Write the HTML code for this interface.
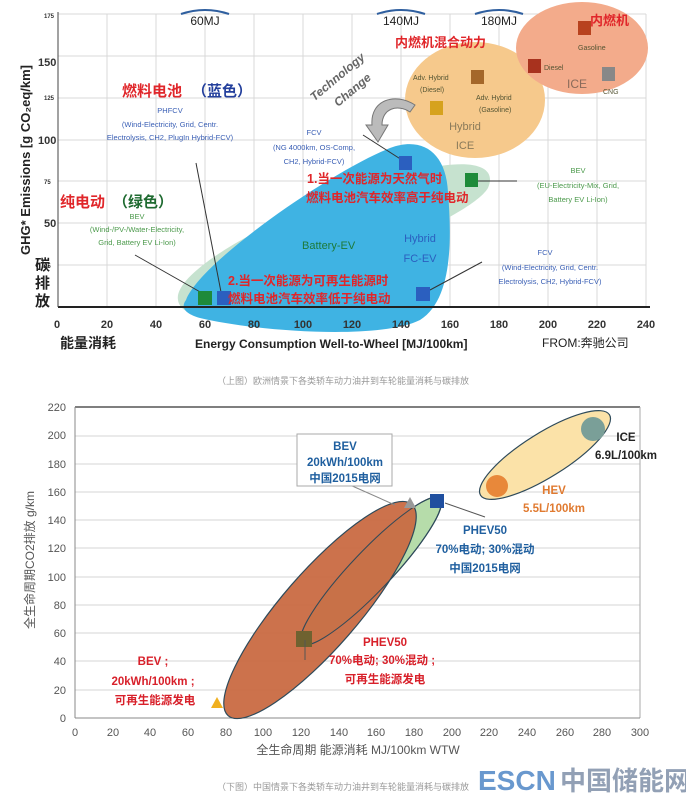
<!DOCTYPE html>
<html><head><meta charset="utf-8"><style>
html,body{margin:0;padding:0;background:#fff;width:686px;height:800px;overflow:hidden}
svg{display:block;font-family:"Liberation Sans","Noto Sans CJK SC",sans-serif}
</style></head><body>
<svg width="686" height="800" viewBox="0 0 686 800" xmlns="http://www.w3.org/2000/svg">
<!-- TOP CHART -->
<g stroke="#d8d8d8" stroke-width="1">
<line x1="107" y1="14" x2="107" y2="307"/><line x1="156" y1="14" x2="156" y2="307"/><line x1="205" y1="14" x2="205" y2="307"/><line x1="254" y1="14" x2="254" y2="307"/><line x1="303" y1="14" x2="303" y2="307"/><line x1="352" y1="14" x2="352" y2="307"/><line x1="401" y1="14" x2="401" y2="307"/><line x1="450" y1="14" x2="450" y2="307"/><line x1="499" y1="14" x2="499" y2="307"/><line x1="548" y1="14" x2="548" y2="307"/><line x1="597" y1="14" x2="597" y2="307"/><line x1="646" y1="14" x2="646" y2="307"/>
<line x1="58" y1="14" x2="646" y2="14"/><line x1="58" y1="56" x2="646" y2="56"/><line x1="58" y1="98" x2="646" y2="98"/><line x1="58" y1="140" x2="646" y2="140"/><line x1="58" y1="181" x2="646" y2="181"/><line x1="58" y1="223" x2="646" y2="223"/><line x1="58" y1="265" x2="646" y2="265"/>
</g>
<path d="M178,300 C172,268 300,200 420,170 C470,158 498,165 488,188 C470,218 330,272 240,308 C205,320 180,315 178,300Z" fill="#c6e2cf"/>
<path d="M186,300 C200,262 330,172 390,148 C422,136 446,152 448,192 C452,242 452,300 420,320 C380,340 260,332 200,318 C186,314 180,308 186,300Z" fill="#3fb3e3"/>
<ellipse cx="475" cy="100" rx="70" ry="58" fill="#f6c98c"/>
<ellipse cx="582" cy="48" rx="66" ry="46" fill="#f3ab8b"/>
<line x1="58" y1="307" x2="650" y2="307" stroke="#222" stroke-width="2"/>
<line x1="58" y1="12" x2="58" y2="307" stroke="#444" stroke-width="1"/>
<!-- arrow -->
<path d="M415,105 C395,92 370,100 372,125 L366,125 L378,142 L388,125 L382,125 C382,108 398,104 410,112Z" fill="#bbb" stroke="#777" stroke-width="1"/>
<!-- connectors -->
<g stroke="#333" stroke-width="1"><line x1="135" y1="255" x2="202" y2="293"/><line x1="196" y1="163" x2="221" y2="292"/><line x1="363" y1="135" x2="402" y2="160"/><line x1="478" y1="181" x2="517" y2="181"/><line x1="430" y1="290" x2="482" y2="262"/></g>
<!-- squares -->
<rect x="198" y="291" width="14" height="14" fill="#1e8a3a"/>
<rect x="217" y="291" width="14" height="14" fill="#2b5fbf"/>
<rect x="399" y="156" width="13" height="14" fill="#2b5fbf"/>
<rect x="465" y="173" width="13" height="14" fill="#1e8a3a"/>
<rect x="416" y="287" width="14" height="14" fill="#2b5fbf"/>
<rect x="430" y="101" width="13" height="14" fill="#d6a21e"/>
<rect x="471" y="70" width="13" height="14" fill="#a4672a"/>
<rect x="528" y="59" width="13" height="14" fill="#a8321e"/>
<rect x="578" y="21" width="13" height="14" fill="#b8421e"/>
<rect x="602" y="67" width="13" height="14" fill="#888"/>
<!-- axes labels -->
<g font-size="9" fill="#333" font-weight="bold"><text x="44" y="18" font-size="6">175</text><text x="38" y="66" font-size="11">150</text><text x="44" y="100" font-size="6">125</text><text x="38" y="144" font-size="11">100</text><text x="44" y="184" font-size="6">75</text><text x="44" y="227" font-size="11">50</text><text x="44" y="268" font-size="6">25</text></g>
<g font-size="11" fill="#333" font-weight="bold" text-anchor="middle"><text x="57" y="328">0</text><text x="107" y="328">20</text><text x="156" y="328">40</text><text x="205" y="328">60</text><text x="254" y="328">80</text><text x="303" y="328">100</text><text x="352" y="328">120</text><text x="401" y="328">140</text><text x="450" y="328">160</text><text x="499" y="328">180</text><text x="548" y="328">200</text><text x="597" y="328">220</text><text x="646" y="328">240</text></g>
<text transform="translate(30,160) rotate(-90)" text-anchor="middle" font-size="13" font-weight="bold" fill="#222">GHG* Emissions [g CO₂eq/km]</text>
<text x="35" y="270" font-size="15" font-weight="bold" fill="#222">碳</text><text x="35" y="288" font-size="15" font-weight="bold" fill="#222">排</text><text x="35" y="306" font-size="15" font-weight="bold" fill="#222">放</text>
<text x="60" y="348" font-size="14" font-weight="bold" fill="#222">能量消耗</text>
<text x="195" y="348" font-size="12" font-weight="bold" fill="#222">Energy Consumption Well-to-Wheel [MJ/100km]</text>
<text x="542" y="347" font-size="12" fill="#222">FROM:奔驰公司</text>
<!-- MJ markers -->
<g fill="none" stroke="#2f5f9f" stroke-width="2"><path d="M181,14 Q205,6 229,14"/><path d="M377,14 Q401,6 425,14"/><path d="M475,14 Q499,6 523,14"/></g>
<g font-size="12" fill="#222" text-anchor="middle"><text x="205" y="25">60MJ</text><text x="401" y="25">140MJ</text><text x="499" y="25">180MJ</text></g>
<text transform="translate(340,80) rotate(-40)" font-size="12" font-weight="bold" fill="#666" font-style="italic" text-anchor="middle">Technology</text>
<text transform="translate(355,93) rotate(-40)" font-size="12" font-weight="bold" fill="#666" font-style="italic" text-anchor="middle">Change</text>
<!-- labels -->
<text x="122" y="96" font-size="15" font-weight="bold" fill="#e0262a">燃料电池</text><text x="192" y="96" font-size="15" font-weight="bold" fill="#233f9c">（蓝色）</text>
<g font-size="7.5" fill="#3a5fb5" text-anchor="middle"><text x="170" y="113">PHFCV</text><text x="170" y="127">(Wind-Electricity, Grid, Centr.</text><text x="170" y="140">Electrolysis, CH2, PlugIn Hybrid-FCV)</text>
<text x="314" y="135">FCV</text><text x="314" y="150">(NG 4000km, OS-Comp,</text><text x="314" y="164">CH2, Hybrid-FCV)</text>
<text x="545" y="255">FCV</text><text x="550" y="270">(Wind-Electricity, Grid, Centr.</text><text x="550" y="284">Electrolysis, CH2, Hybrid-FCV)</text></g>
<text x="60" y="207" font-size="15" font-weight="bold" fill="#e0262a">纯电动</text><text x="113" y="207" font-size="15" font-weight="bold" fill="#1e6a30">（绿色）</text>
<g font-size="7.5" fill="#4c9a4c" text-anchor="middle"><text x="137" y="219">BEV</text><text x="137" y="232">(Wind-/PV-/Water-Electricity,</text><text x="137" y="245">Grid, Battery EV Li-Ion)</text>
<text x="578" y="173">BEV</text><text x="578" y="188">(EU-Electricity-Mix, Grid,</text><text x="578" y="202">Battery EV Li-Ion)</text></g>
<text x="302" y="249" font-size="11" fill="#1d7a3a">Battery-EV</text>
<text x="420" y="242" font-size="11" fill="#2b5fbf" text-anchor="middle">Hybrid</text><text x="420" y="262" font-size="11" fill="#2b5fbf" text-anchor="middle">FC-EV</text>
<g font-size="12.5" font-weight="bold" fill="#e0262a"><text x="307" y="183">1.当一次能源为天然气时</text><text x="306" y="202">燃料电池汽车效率高于纯电动</text><text x="228" y="285">2.当一次能源为可再生能源时</text><text x="228" y="303">燃料电池汽车效率低于纯电动</text>
<text x="395" y="47" font-size="13">内燃机混合动力</text><text x="590" y="25" font-size="13">内燃机</text></g>
<g font-size="7" fill="#553"><text x="413" y="80">Adv. Hybrid</text><text x="420" y="92">(Diesel)</text><text x="476" y="100">Adv. Hybrid</text><text x="479" y="112">(Gasoline)</text><text x="544" y="70">Diesel</text><text x="578" y="50">Gasoline</text><text x="603" y="94">CNG</text></g>
<text x="465" y="130" font-size="11" fill="#8a7a5a" text-anchor="middle">Hybrid</text><text x="465" y="149" font-size="11" fill="#8a7a5a" text-anchor="middle">ICE</text>
<text x="577" y="88" font-size="12" fill="#8a6a5a" text-anchor="middle">ICE</text>
<text x="343" y="384" font-size="9" fill="#999" text-anchor="middle">（上图）欧洲情景下各类轿车动力油井到车轮能量消耗与碳排放</text>

<!-- BOTTOM CHART -->
<g stroke="#d5d5d5" stroke-width="1"><line x1="75" y1="436" x2="640" y2="436"/><line x1="75" y1="464" x2="640" y2="464"/><line x1="75" y1="492" x2="640" y2="492"/><line x1="75" y1="520" x2="640" y2="520"/><line x1="75" y1="548" x2="640" y2="548"/><line x1="75" y1="577" x2="640" y2="577"/><line x1="75" y1="605" x2="640" y2="605"/><line x1="75" y1="633" x2="640" y2="633"/><line x1="75" y1="661" x2="640" y2="661"/><line x1="75" y1="690" x2="640" y2="690"/></g>
<line x1="75" y1="407" x2="640" y2="407" stroke="#555" stroke-width="1.5"/>
<line x1="640" y1="407" x2="640" y2="718" stroke="#aaa"/>
<line x1="75" y1="407" x2="75" y2="718" stroke="#888"/>
<line x1="75" y1="718" x2="640" y2="718" stroke="#888"/>
<g font-size="11" fill="#555" text-anchor="end"><text x="66" y="411">220</text><text x="66" y="439">200</text><text x="66" y="468">180</text><text x="66" y="496">160</text><text x="66" y="524">140</text><text x="66" y="552">120</text><text x="66" y="581">100</text><text x="66" y="609">80</text><text x="66" y="637">60</text><text x="66" y="665">40</text><text x="66" y="694">20</text><text x="66" y="722">0</text></g>
<g font-size="11" fill="#555" text-anchor="middle"><text x="75" y="736">0</text><text x="113" y="736">20</text><text x="150" y="736">40</text><text x="188" y="736">60</text><text x="226" y="736">80</text><text x="263" y="736">100</text><text x="301" y="736">120</text><text x="339" y="736">140</text><text x="376" y="736">160</text><text x="414" y="736">180</text><text x="452" y="736">200</text><text x="489" y="736">220</text><text x="527" y="736">240</text><text x="565" y="736">260</text><text x="602" y="736">280</text><text x="640" y="736">300</text></g>
<text x="358" y="754" font-size="12" fill="#555" text-anchor="middle">全生命周期 能源消耗 MJ/100km WTW</text>
<text transform="translate(34,560) rotate(-90)" font-size="12" fill="#555" text-anchor="middle">全生命周期CO2排放 g/km</text>
<!-- shapes -->
<ellipse cx="545" cy="455" rx="76" ry="22" transform="rotate(-32 545 455)" fill="#fbe2a8" stroke="#2e4a5a" stroke-width="1.2"/>
<circle cx="593" cy="429" r="12" fill="#7a9f98"/>
<circle cx="497" cy="486" r="11" fill="#e8883a"/>
<ellipse cx="371" cy="571" rx="100" ry="20" transform="rotate(-46.5 371 571)" fill="#b6dcaa" stroke="#2e4a5a" stroke-width="1.2"/>
<ellipse cx="320" cy="610" rx="140" ry="38" transform="rotate(-49 320 610)" fill="#c96a42" stroke="#2e4a5a" stroke-width="1.2" fill-opacity="0.95"/>
<ellipse cx="371" cy="571" rx="100" ry="20" transform="rotate(-46.5 371 571)" fill="none" stroke="#2e4a5a" stroke-width="1"/>
<polygon points="217,697 211,708 223,708" fill="#f0b020"/>
<rect x="296" y="631" width="16" height="16" fill="#6f6230"/>
<rect x="430" y="494" width="14" height="14" fill="#1f4f9f"/>
<polygon points="410,497 404,508 416,508" fill="#999"/>
<!-- callout -->
<line x1="350" y1="485" x2="395" y2="505" stroke="#888"/>
<line x1="445" y1="503" x2="485" y2="517" stroke="#555"/>
<line x1="305" y1="640" x2="305" y2="660" stroke="#555"/>
<rect x="297" y="434" width="95" height="52" fill="#fff" stroke="#aaa"/>
<g font-size="11.5" font-weight="bold" fill="#1f5f9f" text-anchor="middle"><text x="345" y="450">BEV</text><text x="345" y="466">20kWh/100km</text><text x="345" y="482">中国2015电网</text>
<text x="485" y="534">PHEV50</text><text x="485" y="553">70%电动; 30%混动</text><text x="485" y="572">中国2015电网</text></g>
<g font-size="11.5" font-weight="bold" fill="#222" text-anchor="middle"><text x="626" y="441">ICE</text><text x="626" y="459">6.9L/100km</text></g>
<g font-size="11.5" font-weight="bold" fill="#e07a30" text-anchor="middle"><text x="554" y="494">HEV</text><text x="554" y="512">5.5L/100km</text></g>
<g font-size="11.5" font-weight="bold" fill="#d8202a" text-anchor="middle"><text x="385" y="646">PHEV50</text><text x="382" y="664">70%电动; 30%混动 ;</text><text x="385" y="683">可再生能源发电</text>
<text x="153" y="665">BEV ;</text><text x="153" y="685">20kWh/100km ;</text><text x="155" y="704">可再生能源发电</text></g>
<text x="343" y="790" font-size="9" fill="#999" text-anchor="middle">（下图）中国情景下各类轿车动力油井到车轮能量消耗与碳排放</text>
<text x="478" y="790" font-size="28" font-weight="bold" fill="#4f86c6" fill-opacity="0.85">ESCN</text>
<text x="560" y="790" font-size="26" font-weight="bold" fill="#7f8fa8" fill-opacity="0.85">中国储能网</text>
</svg>
</body></html>
